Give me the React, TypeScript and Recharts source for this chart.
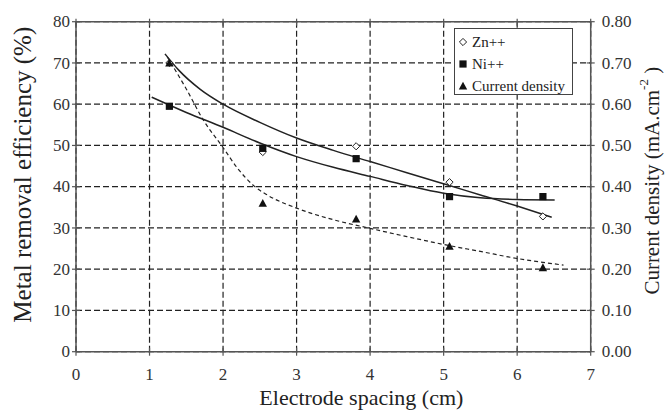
import React from 'react';
import { ComposedChart, XAxis, YAxis, CartesianGrid, Line, Scatter, Legend, Label } from 'recharts';

const FONT = "'Liberation Serif', 'Times New Roman', serif";

const xTicks = [0, 1, 2, 3, 4, 5, 6, 7];
const leftTicks = [0, 10, 20, 30, 40, 50, 60, 70, 80];
const rightTicks = [0, 0.1, 0.2, 0.3, 0.4, 0.5, 0.6, 0.7, 0.8];

const spacing = [1.27, 2.54, 3.81, 5.08, 6.35];
const znValues = [70, 48.4, 49.8, 41.1, 32.8];
const niValues = [59.5, 49.3, 46.8, 37.6, 37.6];
const cdValues = [0.7, 0.36, 0.322, 0.256, 0.204];

const znFitX = [1.21, 1.4, 1.69, 2.0, 2.5, 3.0, 3.5, 4.0, 4.5, 5.0, 5.5, 6.0, 6.47];
const znFitY = [72.2, 68.2, 63.6, 60.0, 55.6, 51.8, 48.8, 46.1, 43.4, 40.7, 38.0, 35.3, 32.6];

const niFitX = [1.03, 1.5, 2.0, 2.5, 3.0, 3.5, 4.0, 4.5, 5.0, 5.5, 6.0, 6.51];
const niFitY = [61.7, 58.0, 54.4, 50.6, 47.3, 44.7, 42.5, 40.3, 38.4, 37.3, 36.9, 36.8];

const cdFitX = [1.24, 1.5, 1.73, 2.0, 2.2, 2.42, 2.6, 3.0, 3.5, 4.0, 4.5, 5.0, 5.5, 6.0, 6.63];
const cdFitY = [0.715, 0.637, 0.562, 0.495, 0.444, 0.402, 0.38, 0.348, 0.32, 0.299, 0.279, 0.26, 0.243, 0.226, 0.21];

const legendLabels = ['Zn++', 'Ni++', 'Current density'];

const toPoints = (xs: number[], ys: number[]) => xs.map((x, i) => ({ x, y: ys[i] }));

const znData = toPoints(spacing, znValues);
const niData = toPoints(spacing, niValues);
const cdData = toPoints(spacing, cdValues);
const znFit = toPoints(znFitX, znFitY);
const niFit = toPoints(niFitX, niFitY);
const cdFit = toPoints(cdFitX, cdFitY);

const INK = '#222';
const AXIS = '#555';

const LeftTick = (props: any) => {
  const { x, y, payload } = props;
  return (
    <g>
      <line x1={x - 4} x2={x + 4} y1={y} y2={y} stroke={AXIS} strokeWidth={1.2} />
      <text x={x - 6} y={y} dy="0.34em" textAnchor="end" style={{ fontFamily: FONT }} fontSize={17} fill="#333">
        {payload.value}
      </text>
    </g>
  );
};

const RightTick = (props: any) => {
  const { x, y, payload } = props;
  return (
    <g>
      <line x1={x - 4} x2={x + 4} y1={y} y2={y} stroke={AXIS} strokeWidth={1.2} />
      <text x={x + 11} y={y} dy="0.34em" textAnchor="start" style={{ fontFamily: FONT }} fontSize={17} fill="#333">
        {Number(payload.value).toFixed(2)}
      </text>
    </g>
  );
};

const BottomTick = (props: any) => {
  const { x, y, payload } = props;
  return (
    <g>
      <line x1={x} x2={x} y1={y - 4} y2={y + 4} stroke={AXIS} strokeWidth={1.2} />
      <text x={x} y={y + 28} textAnchor="middle" style={{ fontFamily: FONT }} fontSize={17} fill="#333">
        {payload.value}
      </text>
    </g>
  );
};

const TopTick = (props: any) => {
  const { x, y } = props;
  return <line x1={x} x2={x} y1={y - 3} y2={y + 4} stroke={AXIS} strokeWidth={1.2} />;
};

const Diamond = (props: any) => {
  const { cx, cy } = props;
  if (cx == null || cy == null) return null;
  const r = 3.6;
  return (
    <path
      d={`M${cx},${cy - r}L${cx + r},${cy}L${cx},${cy + r}L${cx - r},${cy}Z`}
      fill="#fff"
      stroke={INK}
      strokeWidth={1}
    />
  );
};

const Square = (props: any) => {
  const { cx, cy } = props;
  if (cx == null || cy == null) return null;
  const s = 3.6;
  return <rect x={cx - s} y={cy - s} width={2 * s} height={2 * s} fill="#111" />;
};

const Triangle = (props: any) => {
  const { cx, cy } = props;
  if (cx == null || cy == null) return null;
  const h = 4.2;
  return <path d={`M${cx},${cy - h}L${cx + h},${cy + h - 0.6}L${cx - h},${cy + h - 0.6}Z`} fill="#111" />;
};

const legendShapes = [Diamond, Square, Triangle];

const LegendBox = () => (
  <div
    style={{
      position: 'relative',
      width: 119,
      height: 67,
      boxSizing: 'border-box',
      border: `1.5px solid #444`,
      background: '#fff',
      fontFamily: FONT,
      fontSize: 15,
      color: '#222',
    }}
  >
    {legendLabels.map((name, i) => {
      const Shape = legendShapes[i];
      return (
        <div key={name} style={{ position: 'absolute', left: 0, top: 2 + i * 22, height: 22, width: 117 }}>
          <svg width={16} height={22} style={{ position: 'absolute', left: 0, top: 0 }}>
            <Shape cx={8} cy={11} />
          </svg>
          <span style={{ position: 'absolute', left: 17, top: 0, lineHeight: '22px', whiteSpace: 'nowrap' }}>{name}</span>
        </div>
      );
    })}
  </div>
);

const LeftTitle = (props: any) => {
  const vb = props.viewBox;
  const cx = vb.x + 23;
  const cy = vb.y + vb.height / 2 - 12;
  return (
    <text
      x={cx}
      y={cy}
      transform={`rotate(-90 ${cx} ${cy})`}
      textAnchor="middle"
      dominantBaseline="central"
      style={{ fontFamily: FONT }}
      fontSize={25}
      fill="#222"
    >
      Metal removal efficiency (%)
    </text>
  );
};

const RightTitle = (props: any) => {
  const vb = props.viewBox;
  const cx = vb.x + 61;
  const cy = vb.y + vb.height / 2 - 6;
  return (
    <text
      x={cx}
      y={cy}
      transform={`rotate(-90 ${cx} ${cy})`}
      textAnchor="middle"
      dominantBaseline="central"
      style={{ fontFamily: FONT }}
      fontSize={21}
      fill="#222"
    >
      <tspan>Current density (mA.cm</tspan>
      <tspan dy={-9} fontSize={13}>-2</tspan>
      <tspan dy={9} fontSize={21}> )</tspan>
    </text>
  );
};

const BottomTitle = (props: any) => {
  const vb = props.viewBox;
  const cx = vb.x + vb.width / 2 + 28;
  const y = vb.y + 53;
  return (
    <text x={cx} y={y} textAnchor="middle" style={{ fontFamily: FONT }} fontSize={22} fill="#222">
      Electrode spacing (cm)
    </text>
  );
};

export default function App() {
  return (
    <div style={{ position: 'absolute', left: 0, top: 0, background: '#fff' }}>
      <ComposedChart width={670} height={410} margin={{ top: 1.7, right: 0, bottom: 0, left: 0 }}>
        <CartesianGrid
          xAxisId="bottom"
          yAxisId="left"
          stroke="#222"
          strokeWidth={1.2}
          strokeDasharray="6 3"
        />
        <XAxis
          xAxisId="bottom"
          dataKey="x"
          type="number"
          domain={[0, 7]}
          ticks={xTicks}
          allowDataOverflow
          height={58.3}
          tickSize={0}
          tickMargin={0}
          tickLine={false}
          axisLine={{ stroke: AXIS, strokeWidth: 1.5 }}
          tick={<BottomTick />}
          interval={0}
        >
          <Label content={<BottomTitle />} />
        </XAxis>
        <XAxis
          xAxisId="top"
          orientation="top"
          dataKey="x"
          type="number"
          domain={[0, 7]}
          ticks={xTicks}
          allowDataOverflow
          height={20}
          tickSize={0}
          tickMargin={0}
          tickLine={false}
          axisLine={{ stroke: AXIS, strokeWidth: 1.5 }}
          tick={<TopTick />}
          interval={0}
        />
        <YAxis
          yAxisId="left"
          type="number"
          domain={[0, 80]}
          ticks={leftTicks}
          allowDataOverflow
          width={76}
          tickSize={0}
          tickMargin={0}
          tickLine={false}
          axisLine={{ stroke: AXIS, strokeWidth: 1.5 }}
          tick={<LeftTick />}
          interval={0}
        >
          <Label content={<LeftTitle />} />
        </YAxis>
        <YAxis
          yAxisId="right"
          orientation="right"
          type="number"
          domain={[0, 0.8]}
          ticks={rightTicks}
          allowDataOverflow
          width={79.3}
          tickSize={0}
          tickMargin={0}
          tickLine={false}
          axisLine={{ stroke: AXIS, strokeWidth: 1.5 }}
          tick={<RightTick />}
          interval={0}
        >
          <Label content={<RightTitle />} />
        </YAxis>

        <Line
          xAxisId="bottom"
          yAxisId="left"
          data={znFit}
          dataKey="y"
          type="monotone"
          stroke={INK}
          strokeWidth={1.5}
          dot={false}
          activeDot={false}
          isAnimationActive={false}
          legendType="none"
        />
        <Line
          xAxisId="bottom"
          yAxisId="left"
          data={niFit}
          dataKey="y"
          type="monotone"
          stroke={INK}
          strokeWidth={1.5}
          dot={false}
          activeDot={false}
          isAnimationActive={false}
          legendType="none"
        />
        <Line
          xAxisId="bottom"
          yAxisId="right"
          data={cdFit}
          dataKey="y"
          type="monotone"
          stroke={INK}
          strokeWidth={1.2}
          strokeDasharray="4 3"
          dot={false}
          activeDot={false}
          isAnimationActive={false}
          legendType="none"
        />
        <Scatter
          xAxisId="bottom"
          yAxisId="left"
          name="Zn++"
          data={znData}
          dataKey="y"
          shape={<Diamond />}
          isAnimationActive={false}
        />
        <Scatter
          xAxisId="bottom"
          yAxisId="left"
          name="Ni++"
          data={niData}
          dataKey="y"
          shape={<Square />}
          isAnimationActive={false}
        />
        <Scatter
          xAxisId="bottom"
          yAxisId="right"
          name="Current density"
          data={cdData}
          dataKey="y"
          shape={<Triangle />}
          isAnimationActive={false}
        />
        <Legend
          layout="horizontal"
          verticalAlign="middle"
          align="center"
          wrapperStyle={{ left: 454, top: 28, width: 119, height: 67 }}
          content={<LegendBox />}
        />
      </ComposedChart>
    </div>
  );
}
